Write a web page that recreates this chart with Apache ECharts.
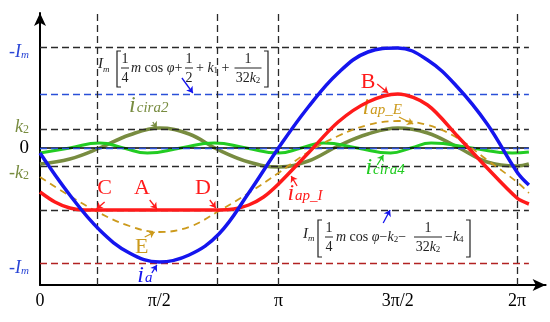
<!DOCTYPE html>
<html><head><meta charset="utf-8">
<script src="https://cdn.jsdelivr.net/npm/echarts@6/dist/echarts.min.js"></script>
<style>html,body{margin:0;padding:0;background:#fff}#c{width:550px;height:322px}</style>
</head><body><div id="c"></div>
<script>
// ---- data (x in units of π, y in arbitrary units; 0 = zero current) ----
const xTickValues = [0, 0.5, 1, 1.5, 2];
const xTickLabels = ['0', 'π/2', 'π', '3π/2', '2π'];
const yLabelValues = [96, 21, 0, -25, -120];
const yLabelTexts = ['{b|-I}{bs|m}', '{o|k}{os|2}', '{z|0}', '{o|-k}{os|2}', '{b|-I}{bs|m}'];

const uStep = [0, 0.125, 0.25, 0.375, 0.5, 0.625, 0.75, 0.875, 1, 1.125, 1.25, 1.375, 1.5, 1.625, 1.75, 1.875, 2, 2.05];
const iA     = [-5, -47, -82, -105, -114, -107, -86, -45, 0, 41, 75, 96, 100, 88, 61, 24, -24, -37];
const iApE   = [-29, -48, -65, -78, -84, -79, -63, -45, -25, -4, 12, 23, 27, 23, 10, -12, -34, -45];
const iCira2 = [-16, -11, 0, 13, 20, 14, -2, -14, -19, -13, 2, 14, 20, 15, 1, -14, -18, -16];

const redU = [0, 0.0625, 0.125, 0.1875, 0.25, 0.5, 0.75, 0.8125, 0.875, 0.9375, 1, 1.125, 1.25, 1.375, 1.5, 1.625, 1.75, 1.875, 2, 2.05];
const iAp  = [-44, -54, -60, -62, -62, -62, -62, -61, -57, -49, -36, -5, 26, 46, 54, 43, 12, -20, -50, -56];

const greenU  = [0, 0.125, 0.25, 0.35, 0.45, 0.59, 0.73, 0.865, 1.0, 1.095, 1.19, 1.33, 1.47, 1.555, 1.64, 1.81, 1.98, 2.05];
const iCira4  = [-5, 0, 5, 0, -5, 0, 5, 0, -5, 0, 5, 0, -5, 0, 5, 0, -5, -4];

const levelIm = 101, levelBlue = 54, levelK2 = 19, levelNegK2 = -18, levelFlat = -62, levelNegIm = -115;
const vLines = [0.24, 0.745, 1, 2];
const lineEnd = 2.05;
const yMin = -137, yMax = 135;

// ---- styling ----
const serif = '"Liberation Serif","Times New Roman",serif';
const C = {blue:'#1515ee', red:'#ff1a1a', olive:'#788c40', green:'#22cc22', gold:'#cc9a1c', ylBlue:'#2a46d6', dk:'#222'};
const BLACK_DASH = {color:'#2a2a2a', width:1.3, type:[7,4]};

const pair = (a, b) => a.map((x, i) => [x, b[i]]);
function hLine(v, style){ return [{coord:[0, v], lineStyle:style}, {coord:[lineEnd, v]}]; }
function vLine(u){ return [{coord:[u, yMin], lineStyle:BLACK_DASH}, {coord:[u, yMax]}]; }
function arrow(a, b, color){ return [{coord:a, lineStyle:{color, width:1.3, type:'solid'}}, {coord:b}]; }
function lab(u, v, fmt, color){
  return {coord:[u, v], symbol:'circle', symbolSize:0,
    label:{show:true, position:'inside', formatter:fmt, color,
      rich:{
        i:{fontFamily:serif, fontStyle:'italic', fontSize:24, color, padding:[0,1,5,0]},
        s:{fontFamily:serif, fontStyle:'italic', fontSize:15, color},
        L:{fontFamily:serif, fontSize:22, color}
      }}};
}

const dashedLines = [
  hLine(levelIm, BLACK_DASH),
  hLine(levelBlue, {color:'#2a4fd8', width:1.3, type:[7,4]}),
  hLine(levelK2, BLACK_DASH),
  hLine(0, {color:'#000', width:1.6, type:'solid'}),
  hLine(0, {color:'#2a4fd8', width:1.3, type:[7,4]}),
  hLine(levelNegK2, BLACK_DASH),
  hLine(levelFlat, BLACK_DASH),
  hLine(levelNegIm, {color:'#b22222', width:1.3, type:[7,4]})
].concat(vLines.map(vLine));

const arrows = [
  arrow([0.473, 26], [0.49, 20], C.olive),
  arrow([1.414, 64], [1.46, 55], C.red),
  arrow([1.505, 31], [1.565, 24], C.gold),
  arrow([1.414, -17], [1.44, -7], C.green),
  arrow([1.078, -38], [1.053, -28], C.red),
  arrow([0.271, -54], [0.237, -61], C.red),
  arrow([0.46, -52], [0.49, -61], C.red),
  arrow([0.712, -52], [0.737, -60], C.red),
  arrow([0.439, -89], [0.481, -84], C.gold),
  arrow([0.469, -125], [0.49, -117], C.blue),
  arrow([0.595, 70], [0.641, 55], C.blue),
  arrow([1.439, -75], [1.468, -62], C.blue)
];

const labels = [
  lab(0.456, 40, '{i|i}{s|cira2}', C.olive),
  lab(1.376, 66, '{L|B}', C.red),
  lab(1.435, 38, '{i|i}{s|ap_E}', C.gold),
  lab(1.447, -22, '{i|i}{s|cira4}', C.green),
  lab(1.111, -48, '{i|i}{s|ap_I}', C.red),
  lab(0.271, -40, '{L|C}', C.red),
  lab(0.427, -40, '{L|A}', C.red),
  lab(0.683, -40, '{L|D}', C.red),
  lab(0.427, -99, '{L|E}', C.gold),
  lab(0.44, -130, '{i|i}{s|a}', C.blue)
];

// ---- formula graphics ----
function txt(x, y, text, size, italic, align){
  return {type:'text', x, y, z:100, style:{text, fill:C.dk, fontFamily:serif, fontSize:size,
    fontStyle: italic ? 'italic' : 'normal', align: align || 'left', verticalAlign:'middle'}};
}
function rtxt(x, y, text, align){
  return {type:'text', x, y, z:100, style:{text, fill:C.dk, fontFamily:serif, fontSize:14,
    align: align || 'left', verticalAlign:'middle',
    rich:{it:{fontFamily:serif, fontSize:14, fontStyle:'italic', fill:C.dk},
          sub:{fontFamily:serif, fontSize:9, fill:C.dk, padding:[6,0,0,0], verticalAlign:'bottom'},
          n:{fontFamily:serif, fontSize:14, fill:C.dk}}}};
}
function line(x1, y1, x2, y2){ return {type:'line', z:100, shape:{x1, y1, x2, y2}, style:{stroke:C.dk, lineWidth:1}}; }
function bracket(x, y1, y2, dir){
  return {type:'polyline', z:100, shape:{points:[[x + 4*dir, y1], [x, y1], [x, y2], [x + 4*dir, y2]]}, style:{stroke:C.dk, lineWidth:1.2, fill:null}};
}
function frac(cx, ly, w, num, den){
  return [rtxt(cx, ly - 9, num, 'center'), line(cx - w/2, ly, cx + w/2, ly), rtxt(cx, ly + 10, den, 'center')];
}
const formulaTop = [].concat(
  [txt(98, 64, 'I', 15, true), txt(103, 70, 'm', 9, true), bracket(117, 51, 87, 1)],
  frac(125, 68, 8, '1', '4'),
  [rtxt(131, 68, '{it|m} cos {it|φ}+')],
  frac(189, 68, 8, '1', '2'),
  [rtxt(196, 68, '+ {it|k}{sub|1} +')],
  frac(248, 68, 27, '1', '32{it|k}{sub|2}'),
  [bracket(268, 51, 87, -1)]
);
const formulaBot = [].concat(
  [txt(303, 234, 'I', 15, true), txt(308, 239, 'm', 9, true), bracket(318, 220, 257, 1)],
  frac(329, 237, 8, '1', '4'),
  [rtxt(336, 237, '{it|m} cos {it|φ}−{it|k}{sub|2}−')],
  frac(428, 237, 28, '1', '32{it|k}{sub|2}'),
  [rtxt(445, 237, '−{it|k}{sub|4}')],
  [bracket(470, 220, 257, -1)]
);

const chart = echarts.init(document.getElementById('c'));
chart.setOption({
  animation:false,
  backgroundColor:'#fff',
  grid:{left:40, right:4.4, top:13, bottom:37},
  xAxis:{type:'value', min:0, max:2.12,
    axisLine:{show:true, onZero:false, symbol:['none','arrow'], symbolSize:[9,13], lineStyle:{color:'#000', width:2}},
    axisTick:{show:false}, splitLine:{show:false},
    axisLabel:{customValues:xTickValues, margin:7, color:'#000', fontFamily:serif, fontSize:18,
      formatter:v => xTickLabels[xTickValues.indexOf(v)]}},
  yAxis:{type:'value', min:yMin, max:yMax,
    axisLine:{show:true, onZero:false, symbol:['none','arrow'], symbolSize:[9,13], lineStyle:{color:'#000', width:2}},
    axisTick:{show:false}, splitLine:{show:false},
    axisLabel:{customValues:yLabelValues, margin:11, fontFamily:serif, fontSize:18, color:'#000',
      formatter:v => yLabelTexts[yLabelValues.indexOf(v)],
      rich:{
        b:{fontFamily:serif, fontStyle:'italic', fontSize:18, color:C.ylBlue},
        bs:{fontFamily:serif, fontStyle:'italic', fontSize:11, color:C.ylBlue, padding:[6,0,0,0]},
        o:{fontFamily:serif, fontStyle:'italic', fontSize:18, color:C.olive},
        os:{fontFamily:serif, fontSize:12, color:C.olive, padding:[6,0,0,0]},
        z:{fontFamily:serif, fontSize:19, color:'#000'}
      }}},
  graphic:formulaTop.concat(formulaBot),
  series:[
    {type:'line', name:'guides', data:[], silent:true, z:1,
      markLine:{silent:true, symbol:['none','none'], label:{show:false}, data:dashedLines, animation:false}},
    {type:'line', name:'i_cira2', data:pair(uStep, iCira2), smooth:0.4, showSymbol:false, z:3,
      lineStyle:{color:C.olive, width:3.5}},
    {type:'line', name:'i_cira4', data:pair(greenU, iCira4), smooth:0.5, showSymbol:false, z:4,
      lineStyle:{color:C.green, width:3}},
    {type:'line', name:'i_ap_E', data:pair(uStep, iApE), smooth:0.4, showSymbol:false, z:5,
      lineStyle:{color:C.gold, width:1.8, type:[7,5]}},
    {type:'line', name:'i_ap', data:pair(redU, iAp), smooth:0.3, showSymbol:false, z:6,
      lineStyle:{color:C.red, width:3.5}},
    {type:'line', name:'i_a', data:pair(uStep, iA), smooth:0.4, showSymbol:false, z:7,
      lineStyle:{color:C.blue, width:3.5}},
    {type:'line', name:'notes', data:[], silent:true, z:8,
      markLine:{silent:true, symbol:['none','arrow'], symbolSize:6, label:{show:false}, data:arrows, animation:false},
      markPoint:{silent:true, data:labels, animation:false}}
  ]
});
</script></body></html>
